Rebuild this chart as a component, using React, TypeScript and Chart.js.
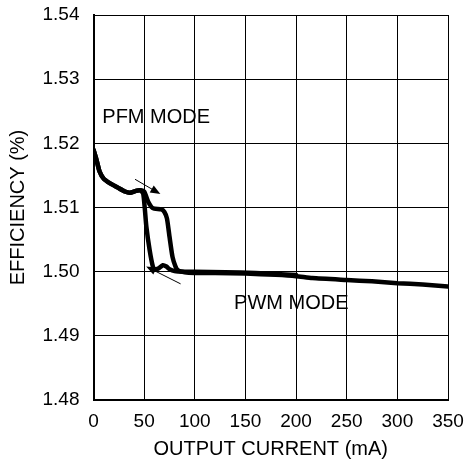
import React, { useEffect, useRef } from "react";
import { Chart, registerables } from "chart.js";

Chart.register(...registerables);

// Sweep with increasing load (PFM -> PWM transition at ~80 mA)
const currentUp = [0, 3, 6, 10, 16, 24, 31, 36, 42, 46, 50, 54, 58.5, 67, 70, 72.5, 75, 78, 81, 83.5, 90, 100, 120, 150, 180, 200, 216, 250, 275, 300, 325, 350];
const effUp = [1.519, 1.5174, 1.5156, 1.5145, 1.5138, 1.5131, 1.5125, 1.5123, 1.5126, 1.5127, 1.5125, 1.5109, 1.5099, 1.5097, 1.5093, 1.5083, 1.5055, 1.5023, 1.5008, 1.5002, 1.4999, 1.4998, 1.4998, 1.4997, 1.4995, 1.4993, 1.499, 1.4987, 1.4985, 1.4982, 1.498, 1.4977];

// Sweep with decreasing load (PWM -> PFM transition at ~55 mA)
const currentDown = [0, 3, 6, 10, 16, 24, 31, 36, 42, 46, 49, 50.5, 52.2, 55.4, 58.6, 60.5, 64, 68.5, 72, 75, 80, 90, 100, 130, 160, 200];
const effDown = [1.519, 1.5174, 1.5156, 1.5145, 1.5138, 1.5131, 1.5125, 1.5123, 1.5126, 1.5127, 1.5122, 1.5101, 1.507, 1.5034, 1.5008, 1.5003, 1.5005, 1.501, 1.5008, 1.5004, 1.5001, 1.5, 1.5, 1.4999, 1.4998, 1.4995];

const xTitle = "OUTPUT CURRENT (mA)";
const yTitle = "EFFICIENCY (%)";
const labelPFM = "PFM MODE";
const labelPWM = "PWM MODE";

// annotation anchors in data units
const pfmAnchor = { x: 8.7, y: 1.524 };
const pwmAnchor = { x: 138.8, y: 1.4951 };
const arrowUp = { from: { x: 41, y: 1.5144 }, to: { x: 66, y: 1.5121 } };
const arrowDown = { from: { x: 86, y: 1.4981 }, to: { x: 52, y: 1.5008 } };

const FONT = "Arial, 'Liberation Sans', Helvetica, sans-serif";

const annotationPlugin = {
  id: "annot",
  afterDatasetsDraw(chart: any) {
    const { ctx, scales } = chart;
    const xs = scales.x;
    const ys = scales.y;
    const px = (v: number) => xs.getPixelForValue(v);
    const py = (v: number) => ys.getPixelForValue(v);
    ctx.save();
    ctx.fillStyle = "#000";
    ctx.font = `20px ${FONT}`;
    ctx.textBaseline = "middle";
    ctx.textAlign = "left";
    ctx.fillText(labelPFM, px(pfmAnchor.x), py(pfmAnchor.y));
    ctx.fillText(labelPWM, px(pwmAnchor.x), py(pwmAnchor.y));

    const drawArrow = (a: any) => {
      const x1 = px(a.from.x), y1 = py(a.from.y);
      const x2 = px(a.to.x), y2 = py(a.to.y);
      const ang = Math.atan2(y2 - y1, x2 - x1);
      const hl = 10, hw = 4;
      ctx.strokeStyle = "#000";
      ctx.lineWidth = 1;
      ctx.beginPath();
      ctx.moveTo(x1, y1);
      ctx.lineTo(x2 - Math.cos(ang) * hl * 0.8, y2 - Math.sin(ang) * hl * 0.8);
      ctx.stroke();
      ctx.beginPath();
      ctx.moveTo(x2, y2);
      ctx.lineTo(x2 - Math.cos(ang) * hl + Math.sin(ang) * hw, y2 - Math.sin(ang) * hl - Math.cos(ang) * hw);
      ctx.lineTo(x2 - Math.cos(ang) * hl - Math.sin(ang) * hw, y2 - Math.sin(ang) * hl + Math.cos(ang) * hw);
      ctx.closePath();
      ctx.fill();
    };
    drawArrow(arrowUp);
    drawArrow(arrowDown);
    ctx.restore();
  },
};

export default function App() {
  const ref = useRef<HTMLCanvasElement>(null);
  useEffect(() => {
    document.body.style.margin = "0";
    const canvas = ref.current!;
    const chart = new Chart(canvas, {
      type: "line",
      data: {
        datasets: [
          {
            data: currentDown.map((x, i) => ({ x, y: effDown[i] })),
            borderColor: "#000",
            borderWidth: 4.5,
            pointRadius: 0,
            tension: 0.2,
            borderJoinStyle: "round",
            borderCapStyle: "round",
          },
          {
            data: currentUp.map((x, i) => ({ x, y: effUp[i] })),
            borderColor: "#000",
            borderWidth: 4.5,
            pointRadius: 0,
            tension: 0.2,
            borderJoinStyle: "round",
            borderCapStyle: "round",
          },
        ],
      },
      options: {
        responsive: false,
        animation: false,
        devicePixelRatio: 1,
        layout: { padding: { top: 15, right: 21, left: 0, bottom: 0 } },
        plugins: { legend: { display: false }, tooltip: { enabled: false } },
        scales: {
          x: {
            type: "linear",
            min: 0,
            max: 350,
            ticks: { stepSize: 50, color: "#000", font: { family: FONT, size: 19 }, padding: 10, maxRotation: 0 },
            grid: { color: "#000", lineWidth: 1, drawTicks: false },
            border: { color: "#000", width: 2 },
            title: { display: true, text: xTitle, color: "#000", font: { family: FONT, size: 20 }, padding: { top: 4, bottom: 4 } },
            afterFit: (s: any) => { s.height = 65; s.paddingLeft = 0; s.paddingRight = 0; },
          },
          y: {
            type: "linear",
            min: 1.48,
            max: 1.54,
            ticks: { stepSize: 0.01, color: "#000", font: { family: FONT, size: 19 }, padding: 14, callback: (v: any) => Number(v).toFixed(2) },
            grid: { color: "#000", lineWidth: 1, drawTicks: false },
            border: { color: "#000", width: 2 },
            title: { display: true, text: yTitle, color: "#000", font: { family: FONT, size: 20 }, padding: { top: 6, bottom: 0 } },
            afterFit: (s: any) => { s.width = 93.5; s.paddingTop = 0; s.paddingBottom = 0; },
          },
        },
      },
      plugins: [annotationPlugin],
    } as any);
    return () => chart.destroy();
  }, []);
  return (
    <div style={{ position: "absolute", left: 0, top: 0, width: 469, height: 465, background: "#fff" }}>
      <canvas ref={ref} width={469} height={465} />
    </div>
  );
}
